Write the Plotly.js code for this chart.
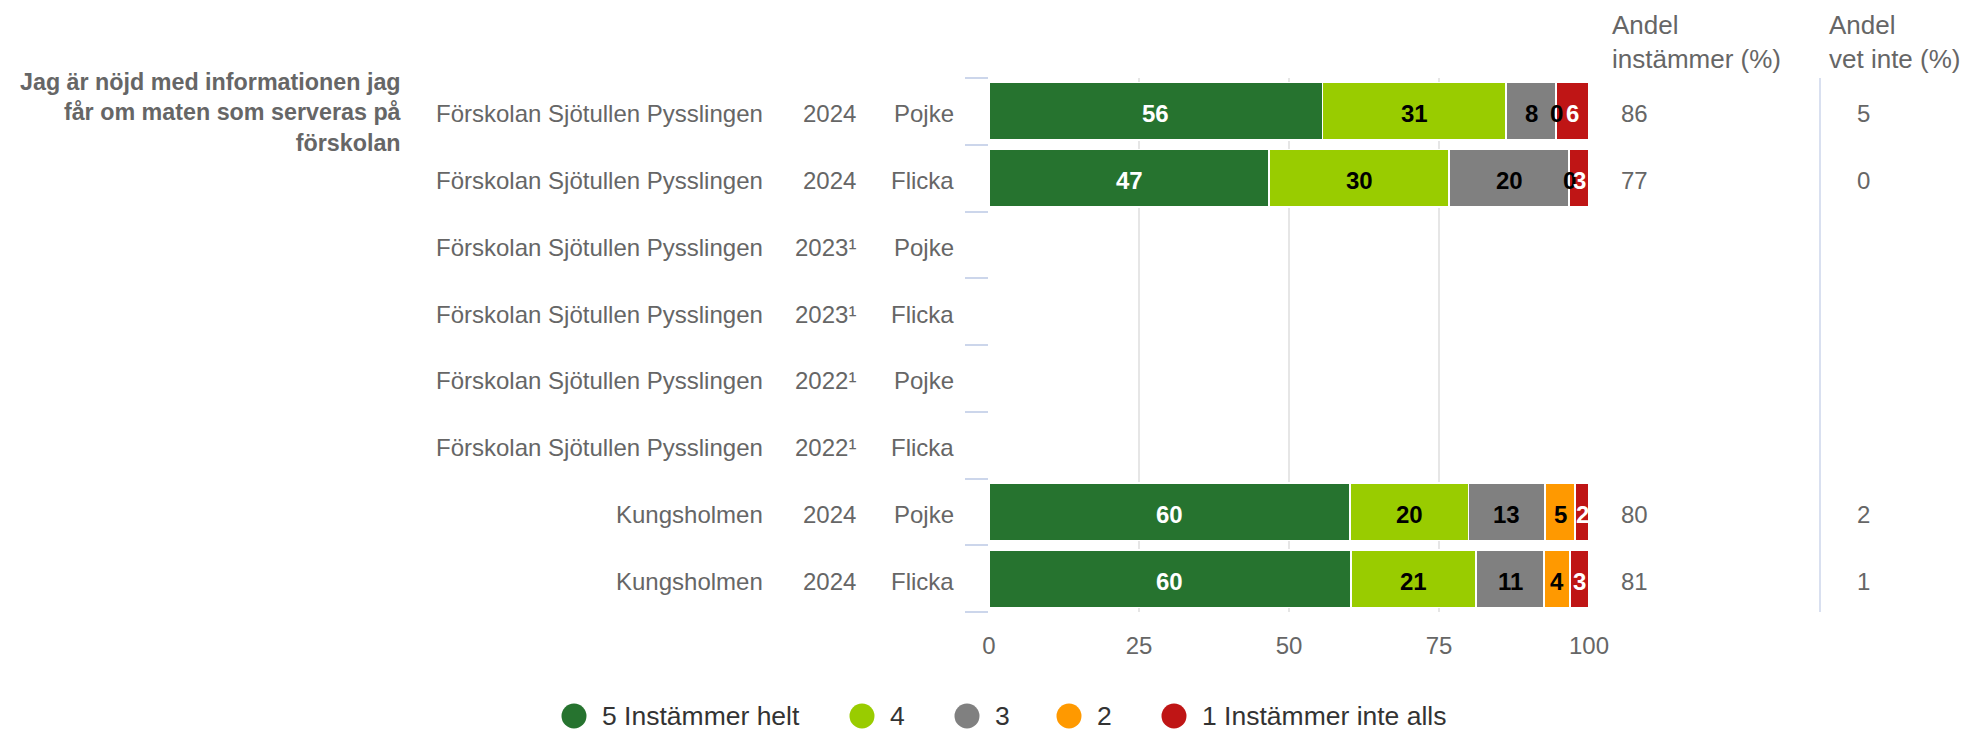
<!DOCTYPE html>
<html>
<head>
<meta charset="utf-8">
<script src="https://cdn.plot.ly/plotly-3.0.1.min.js"></script>
<style>
html,body{margin:0;padding:0;background:#fff;}
#chart{width:1967px;height:732px;}
</style>
</head>
<body>
<div id="chart"></div>
<script>
// ---- Data ----
const question = "Jag är nöjd med informationen jag<br>får om maten som serveras på<br>förskolan";
const units   = ["Förskolan Sjötullen Pysslingen","Förskolan Sjötullen Pysslingen","Förskolan Sjötullen Pysslingen","Förskolan Sjötullen Pysslingen","Förskolan Sjötullen Pysslingen","Förskolan Sjötullen Pysslingen","Kungsholmen","Kungsholmen"];
const years   = ["2024","2024","2023¹","2023¹","2022¹","2022¹","2024","2024"];
const genders = ["Pojke","Flicka","Pojke","Flicka","Pojke","Flicka","Pojke","Flicka"];
const seriesNames = ["5 Instämmer helt","4","3","2","1 Instämmer inte alls"];
const s5 = [55.6, 46.7, null, null, null, null, 60.2, 60.3];
const s4 = [30.6, 30.0, null, null, null, null, 19.7, 20.9];
const s3 = [8.3, 20.0, null, null, null, null, 12.8, 11.3];
const s2 = [0, 0, null, null, null, null, 5.0, 4.3];
const s1 = [5.5, 3.3, null, null, null, null, 2.3, 3.2];
const andelInstammer = [86, 77, null, null, null, null, 80, 81];
const andelVetInte   = [5, 0, null, null, null, null, 2, 1];
const xTicks = [0, 25, 50, 75, 100];

// ---- Style ----
const colors = ["#26732f", "#99cc00", "#808080", "#ff9900", "#bf1515"];
const labelColors = ["#ffffff", "#000000", "#000000", "#000000", "#ffffff"];
const FONT = "Liberation Sans, Arial, Helvetica, sans-serif";
const WIDTH = 1967, HEIGHT = 732;
const L = 989, R = WIDTH - 1589, T = 78, B = HEIGHT - 612;
const PW = WIDTH - L - R, PH = HEIGHT - T - B;
const px2x = px => (px - L) / PW;
const py2y = py => 1 - (py - T) / PH;
const ROW_SHIFT = -2.5;

const series = [s5, s4, s3, s2, s1];
const rows = units.map((_, i) => i);

const traces = series.map((vals, k) => ({
  type: "bar",
  orientation: "h",
  name: seriesNames[k],
  y: rows,
  x: vals,
  marker: {color: colors[k], line: {color: "#ffffff", width: 1.5}},
  hoverinfo: "skip",
  showlegend: false
}));

const annotations = [];
const gray = "#666666";
rows.forEach(i => {
  const rowText = (x, anchor, txt) => annotations.push({xref: "paper", yref: "y", x: px2x(x), y: i,
    xanchor: anchor, yanchor: "middle", yshift: ROW_SHIFT, text: txt, showarrow: false,
    font: {family: FONT, size: 24, color: gray}});
  rowText(765, "right", units[i]);
  rowText(858, "right", years[i]);
  rowText(956, "right", genders[i]);
  if (andelInstammer[i] !== null) rowText(1619, "left", String(andelInstammer[i]));
  if (andelVetInte[i] !== null) rowText(1855, "left", String(andelVetInte[i]));
  // segment labels (zero-valued segments labelled at their boundary)
  let cum = 0;
  series.forEach((vals, k) => {
    const v = vals[i];
    if (v === null) return;
    annotations.push({xref: "x", yref: "y", x: cum + v / 2, y: i, xanchor: "center", yanchor: "middle",
      yshift: ROW_SHIFT, text: String(Math.round(v)), showarrow: false,
      font: {family: FONT, size: 24, color: labelColors[k], weight: 700}});
    cum += v;
  });
});

// headers
annotations.push({xref: "paper", yref: "paper", x: px2x(1610), y: py2y(42), xanchor: "left", yanchor: "middle",
  align: "left", text: "Andel<br>instämmer (%)", showarrow: false, font: {family: FONT, size: 26, color: gray}});
annotations.push({xref: "paper", yref: "paper", x: px2x(1827), y: py2y(42), xanchor: "left", yanchor: "middle",
  align: "left", text: "Andel<br>vet inte (%)", showarrow: false, font: {family: FONT, size: 26, color: gray}});
// question
annotations.push({xref: "paper", yref: "paper", x: px2x(404), y: py2y(112), xanchor: "right", yanchor: "middle",
  align: "right", text: question, showarrow: false, font: {family: FONT, size: 23.3, color: gray, weight: 700}});

const shapes = [
  {type: "line", xref: "paper", yref: "paper", x0: px2x(1820), x1: px2x(1820), y0: 0, y1: 1,
   line: {color: "#ccd6eb", width: 1.5}}
];

// legend (manual, circle symbols)
const legendCenters = [574, 862, 967, 1069, 1174];
const legendY = 716;
seriesNames.forEach((nm, k) => {
  const cx = legendCenters[k];
  shapes.push({type: "circle", xref: "paper", yref: "paper",
    x0: px2x(cx - 12.5), x1: px2x(cx + 12.5), y0: py2y(legendY + 12.5), y1: py2y(legendY - 12.5),
    fillcolor: colors[k], line: {width: 0}});
  annotations.push({xref: "paper", yref: "paper", x: px2x(cx + 26), y: py2y(legendY), xanchor: "left", yanchor: "middle",
    text: nm, showarrow: false, font: {family: FONT, size: 26.5, color: "#333333"}});
});

const layout = {
  width: WIDTH, height: HEIGHT,
  margin: {l: L, r: R, t: T, b: B, pad: 0},
  paper_bgcolor: "#ffffff", plot_bgcolor: "#ffffff",
  barmode: "stack", bargap: 0.135,
  showlegend: false,
  font: {family: FONT, color: gray},
  xaxis: {range: [0, 100], tickvals: xTicks, ticktext: xTicks.map(String), showgrid: true, gridcolor: "#e6e6e6",
    gridwidth: 1.5, zeroline: false, showline: false, ticks: "", ticklabelstandoff: 17,
    tickfont: {family: FONT, size: 24, color: gray}, fixedrange: true},
  yaxis: {range: [7.5, -0.5], tickvals: [-0.5, 0.5, 1.5, 2.5, 3.5, 4.5, 5.5, 6.5, 7.5], showticklabels: false,
    ticks: "outside", ticklen: 23, tickwidth: 2, tickcolor: "#ccd6eb", showgrid: false, zeroline: false,
    showline: false, fixedrange: true},
  annotations: annotations,
  shapes: shapes
};

Plotly.newPlot("chart", traces, layout, {staticPlot: true, displayModeBar: false});
</script>
</body>
</html>
